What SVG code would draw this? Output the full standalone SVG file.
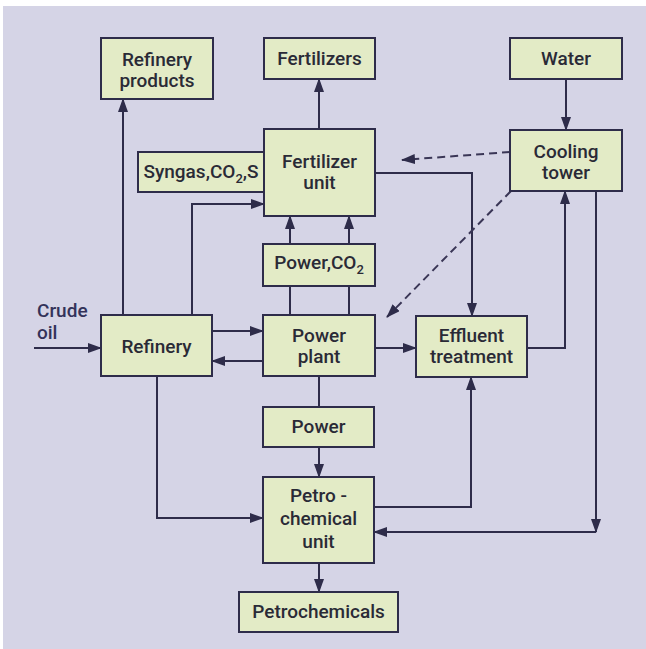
<svg xmlns="http://www.w3.org/2000/svg" width="646" height="649" viewBox="0 0 646 649">
<style>
.box{fill:#e3ebc6;stroke:#2e2c4a;stroke-width:2}
.t{font-family:Roboto,"Liberation Sans",sans-serif;font-size:19px;font-weight:500;fill:#2a2a36;text-anchor:middle}
.c{fill:none;stroke:#2e2c4a;stroke-width:2}
.d{fill:none;stroke:#3a3656;stroke-width:2;stroke-dasharray:8 5}
</style>
<defs>
<marker id="a" markerUnits="userSpaceOnUse" markerWidth="14" markerHeight="10" refX="13" refY="5" orient="auto">
<path d="M0,0 L14,5 L0,10 z" fill="#2e2c4a"/>
</marker>
</defs>
<rect x="0" y="0" width="646" height="649" fill="#ffffff"/>
<rect x="3" y="6" width="643" height="643" fill="#d5d4e6"/>
<g id="connectors">
<path class="c" d="M123,315 V99" marker-end="url(#a)"/>
<path class="c" d="M192,315 V204 H264" marker-end="url(#a)"/>
<path class="c" d="M319,129 V79" marker-end="url(#a)"/>
<path class="c" d="M566,79 V130" marker-end="url(#a)"/>
<path class="d" d="M510,152 L402,160" marker-end="url(#a)"/>
<path class="c" d="M375,173 H472 V316" marker-end="url(#a)"/>
<path class="d" d="M511,191 L387,317" marker-end="url(#a)"/>
<path class="c" d="M290,315 V286"/>
<path class="c" d="M290,244 V216" marker-end="url(#a)"/>
<path class="c" d="M349,315 V286"/>
<path class="c" d="M349,244 V216" marker-end="url(#a)"/>
<path class="c" d="M212,331 H263" marker-end="url(#a)"/>
<path class="c" d="M263,361 H212" marker-end="url(#a)"/>
<path class="c" d="M34,348 H101" marker-end="url(#a)"/>
<path class="c" d="M375,348 H416" marker-end="url(#a)"/>
<path class="c" d="M527,348 H565 V191" marker-end="url(#a)"/>
<path class="c" d="M596,191 V532" marker-end="url(#a)"/>
<path class="c" d="M596,532 H374" marker-end="url(#a)"/>
<path class="c" d="M157,376 V518 H263" marker-end="url(#a)"/>
<path class="c" d="M319,376 V407"/>
<path class="c" d="M319,447 V477" marker-end="url(#a)"/>
<path class="c" d="M374,507 H471 V377" marker-end="url(#a)"/>
<path class="c" d="M319,563 V592" marker-end="url(#a)"/>
</g>
<g id="refinery-products"><rect class="box" x="101" y="38" width="112" height="61"/><text class="t" x="157" y="66">Refinery</text><text class="t" x="157" y="87">products</text></g>
<g id="fertilizers"><rect class="box" x="264" y="38" width="111" height="41"/><text class="t" x="319.5" y="65">Fertilizers</text></g>
<g id="water"><rect class="box" x="510" y="38" width="112" height="41"/><text class="t" x="566" y="65">Water</text></g>
<g id="syngas"><rect class="box" x="138" y="152" width="126" height="40"/><text class="t" x="201" y="178">Syngas,CO<tspan font-size="13" dy="5">2</tspan><tspan dy="-5">,S</tspan></text></g>
<g id="fertilizer-unit"><rect class="box" x="264" y="129" width="111" height="87"/><text class="t" x="319.5" y="168">Fertilizer</text><text class="t" x="319.5" y="189">unit</text></g>
<g id="cooling-tower"><rect class="box" x="510" y="130" width="112" height="61"/><text class="t" x="566" y="158">Cooling</text><text class="t" x="566" y="179">tower</text></g>
<g id="power-co2"><rect class="box" x="263" y="244" width="112" height="42"/><text class="t" x="319" y="269">Power,CO<tspan font-size="13" dy="5">2</tspan></text></g>
<g id="crude-oil"><text class="t" style="text-anchor:start;fill:#33325a" x="37" y="317">Crude</text><text class="t" style="text-anchor:start;fill:#33325a" x="37" y="339">oil</text></g>
<g id="refinery"><rect class="box" x="101" y="315" width="111" height="61"/><text class="t" x="156.5" y="353">Refinery</text></g>
<g id="power-plant"><rect class="box" x="263" y="315" width="112" height="61"/><text class="t" x="319" y="342">Power</text><text class="t" x="319" y="363">plant</text></g>
<g id="effluent"><rect class="box" x="416" y="316" width="111" height="61"/><text class="t" x="471.5" y="342">Effluent</text><text class="t" x="471.5" y="363">treatment</text></g>
<g id="power"><rect class="box" x="263" y="407" width="111" height="40"/><text class="t" x="318.5" y="433">Power</text></g>
<g id="petrochemical-unit"><rect class="box" x="263" y="477" width="111" height="86"/><text class="t" x="318.5" y="502">Petro -</text><text class="t" x="318.5" y="525">chemical</text><text class="t" x="318.5" y="548">unit</text></g>
<g id="petrochemicals"><rect class="box" x="239" y="592" width="159" height="40"/><text class="t" x="318.5" y="618">Petrochemicals</text></g>
</svg>
